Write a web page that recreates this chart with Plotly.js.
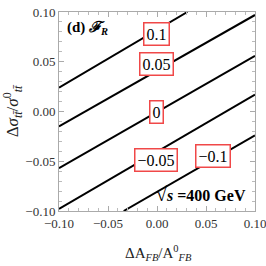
<!DOCTYPE html>
<html>
<head>
<meta charset="utf-8">
<script src="https://cdn.plot.ly/plotly-3.0.1.min.js"></script>
<style>html,body{margin:0;padding:0;background:#fff;}#chart{width:266px;height:266px;}</style>
</head>
<body>
<div id="chart"></div>
<script>
// Contour levels of F_R and the end points of each straight contour line
const levels = [0.1, 0.05, 0, -0.05, -0.1];
const levelText = ["0.1", "0.05", "0", "\u22120.05", "\u22120.1"];
const lineStartX = [-0.1, -0.1, -0.1, -0.1, -0.034];
const lineStartY = [0.024, -0.015, -0.057, -0.098, -0.1];
const lineEndX = [0.031, 0.1, 0.1, 0.1, 0.1];
const lineEndY = [0.1, 0.097, 0.056, 0.017, -0.024];
// label box centres
const labelX = [-0.001, -0.001, -0.001, -0.001, 0.057];
const labelY = [0.078, 0.048, 0.0, -0.049, -0.045];

const tickVals = [-0.1, -0.05, 0, 0.05, 0.1];
const tickText = ["\u22120.10", "\u22120.05", "0.00", "0.05", "0.10"];

const serif = "Liberation Serif, Times New Roman, serif";

const traces = levels.map((lv, i) => ({
  type: "scatter", mode: "lines",
  x: [lineStartX[i], lineEndX[i]],
  y: [lineStartY[i], lineEndY[i]],
  line: {color: "#000", width: 2},
  hoverinfo: "skip", showlegend: false
}));

const annotations = levels.map((lv, i) => ({
  x: labelX[i], y: labelY[i], xref: "x", yref: "y",
  text: levelText[i], showarrow: false,
  font: {family: serif, size: 16, color: "#000"},
  bgcolor: "#fff", bordercolor: "#f04848", borderwidth: 1.5, borderpad: 2
}));
annotations.push({
  xref: "paper", yref: "paper", x: 0.03, y: 0.975, xanchor: "left", yanchor: "top",
  text: "<b>(d) <i>\u2131</i><sub><i>R</i></sub></b>", showarrow: false,
  font: {family: serif, size: 15, color: "#000"}
});
annotations.push({
  xref: "paper", yref: "paper", x: 0.965, y: 0.085, xanchor: "right", yanchor: "middle",
  text: "<b><span style=\"font-size:20px\">\u221A</span><i>s</i> =400 GeV</b>", showarrow: false,
  font: {family: serif, size: 16, color: "#000"}
});
// x-axis title
annotations.push({
  xref: "paper", yref: "paper", x: 0.51, y: -0.21, xanchor: "center", yanchor: "middle",
  text: "\u0394A<sub><i>FB</i></sub>/A<sup>0</sup><sub><i>FB</i></sub>", showarrow: false,
  font: {family: serif, size: 15, color: "#222"}
});

const axisCommon = {
  range: [-0.1, 0.1], tickvals: tickVals, ticktext: tickText,
  ticks: "inside", ticklen: 5, tickcolor: "#aaa", tickwidth: 1,
  showline: true, linecolor: "#aaa", linewidth: 1, mirror: "ticks",
  showgrid: false, zeroline: false,
  tickfont: {family: serif, size: 13, color: "#333"},
  minor: {ticks: "inside", ticklen: 3, dtick: 0.01, tickcolor: "#bbb", showgrid: false}
};

const layout = {
  width: 266, height: 266,
  margin: {l: 59, r: 11, t: 12, b: 55},
  paper_bgcolor: "#fff", plot_bgcolor: "#fff",
  xaxis: Object.assign({}, axisCommon, {ticklabeloverflow: "allow"}),
  yaxis: Object.assign({}, axisCommon, {
    title: {text: "\u0394<i>\u03C3</i><sub><i>tt\u0304</i></sub>/<i>\u03C3</i><sup>0</sup><sub><i>tt\u0304</i></sub>", font: {family: serif, size: 17, color: "#222"}, standoff: 3}
  }),
  annotations: annotations
};

Plotly.newPlot("chart", traces, layout, {staticPlot: true, displayModeBar: false});
</script>
</body>
</html>
